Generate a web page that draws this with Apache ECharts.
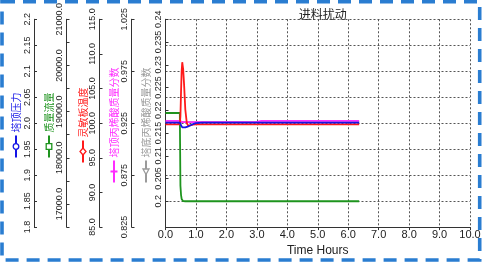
<!DOCTYPE html>
<html><head><meta charset="utf-8">
<script src="https://cdn.jsdelivr.net/npm/echarts@6/dist/echarts.min.js"></script>
<style>html,body{margin:0;padding:0;background:#fff}#c{width:484px;height:262px}</style>
</head><body><div id="c"></div>
<script>
// ---------- data ----------
const chartTitle = '进料扰动';
const xName = 'Time Hours';
const xTickValues = [0,1,2,3,4,5,6,7,8,9,10];

const time       = [0,     0.47,  0.49,  0.51,  0.53,  0.55,  0.58,  0.61,  0.65,  0.70,  0.75,  0.80,  0.90,  1.00,  1.20,  2.00,  3.00,  3.15,  4.00,  5.00,  6.00,  6.36];
const pressure   = [2.001, 2.001, 1.999, 1.996, 1.993, 1.992, 1.9915,1.9915,1.992, 1.993, 1.994, 1.995, 1.998, 2.000, 2.001, 2.001, 2.001, 2.001, 2.001, 2.001, 2.001, 2.001];
const massFlow   = [18970, 18970, 17400, 17200, 17110, 17075, 17062, 17060, 17060, 17060, 17060, 17060, 17060, 17060, 17060, 17060, 17060, 17060, 17060, 17060, 17060, 17060];
const sensTemp   = [99.82, 99.82, 101.0, 104.5, 107.5, 108.8, 107.8, 105.6, 102.0, 100.0, 99.6,  99.65, 99.78, 99.82, 99.82, 99.82, 99.82, 99.82, 99.82, 99.82, 99.82, 99.82];
const topAcid    = [0.9272,0.9272,0.9268,0.9264,0.9262,0.9261,0.9261,0.9261,0.9261,0.9261,0.9261,0.9261,0.9261,0.9261,0.9261,0.9261,0.9262,0.9272,0.9272,0.9272,0.9272,0.9272];
const bottomAcid = [0.2174,0.2174,0.2174,0.2174,0.2174,0.2174,0.2174,0.2174,0.2174,0.2174,0.2174,0.2174,0.2174,0.2174,0.2174,0.2174,0.2174,0.2174,0.2174,0.2174,0.2174,0.2174];

const seriesNames = ['塔顶压力','质量流量','灵敏板温度','塔顶丙烯酸质量分数','塔底丙烯酸质量分数'];

const pressureTickValues = [1.8,1.85,1.9,1.95,2.0,2.05,2.1,2.15,2.2];
const pressureTickLabels = ['1.8','1.85','1.9','1.95','2.0','2.05','2.1','2.15','2.2'];
const flowLabelValues = [17000,18000,19000,20000,21000];
const flowLabelTexts  = ['17000.0','18000.0','19000.0','20000.0','21000.0'];
const flowTickValues  = [16500,17000,17500,18000,18500,19000,19500,20000,20500,21000];
const tempTickValues = [85,90,95,100,105,110,115];
const tempTickLabels = ['85.0','90.0','95.0','100.0','105.0','110.0','115.0'];
const topTickValues = [0.825,0.875,0.925,0.975,1.025];
const topTickLabels = ['0.825','0.875','0.925','0.975','1.025'];
const botTickValues = [0.2,0.205,0.21,0.215,0.22,0.225,0.23,0.235,0.24];
const botTickLabels = ['0.2','0.205','0.21','0.215','0.22','0.225','0.23','0.235','0.24'];

// ---------- chart ----------
const colors = ['#1414e6','#1e941e','#ff1a1a','#ff2cff','#9a9a9a'];
const AX = '#333';
const numFont = '"Liberation Sans", Arial, sans-serif';
const cjkFont = '"Noto Sans CJK SC", sans-serif';

function pick(vals, labs){
  return function(v){
    let bi=0, bd=Infinity;
    vals.forEach((x,i)=>{const d=Math.abs(x-v); if(d<bd){bd=d;bi=i;}});
    return labs[bi];
  };
}
function sideAxis(min,max,offset,labVals,labTexts,tickVals){
  return {
    type:'value', position:'left', offset:offset, min:min, max:max,
    axisLine:{show:true,onZero:false,lineStyle:{color:AX,width:1}},
    axisTick:{show:true,inside:true,length:3,customValues:tickVals,lineStyle:{color:AX}},
    axisLabel:{show:true,rotate:90,margin:2,customValues:labVals,formatter:pick(labVals,labTexts),
      color:'#222',fontSize:9,fontFamily:numFont,hideOverlap:false},
    splitLine:{show:false}
  };
}

const chart = echarts.init(document.getElementById('c'), null, {renderer:'canvas'});

const yAxes = [
  sideAxis(0.19434,0.24,0,botTickValues,botTickLabels,botTickValues),
  sideAxis(1.8,2.2,131.5,pressureTickValues,pressureTickLabels,pressureTickValues),
  sideAxis(16500,21000,99,flowLabelValues,flowLabelTexts,flowTickValues),
  sideAxis(85,115,66,tempTickValues,tempTickLabels,tempTickValues),
  sideAxis(0.825,1.025,34,topTickValues,topTickLabels,topTickValues),
  { type:'value', position:'right', min:0, max:8, interval:1, show:true,
    axisLine:{show:false}, axisTick:{show:false}, axisLabel:{show:false},
    splitLine:{show:true,lineStyle:{type:[2,2],color:'#555',width:1}} }
];

const dataSets = [bottomAcid, massFlow, topAcid, sensTemp, pressure];
const axisIdx  = [0, 2, 4, 3, 1];
const colIdx   = [4, 1, 3, 2, 0];
const series = dataSets.map((arr,k)=>({
  type:'line', name:seriesNames[colIdx[k]], yAxisIndex:axisIdx[k], xAxisIndex:0,
  showSymbol:false, symbol:'none', animation:false,
  lineStyle:{color:colors[colIdx[k]], width:1.8},
  data: time.map((t,i)=>[t, arr[i]])
}));

// rotated name tags (legend-like) for each left axis
const tagX = [16, 49, 83, 114, 146];
const symbols = ['circle','rect','diamond','plus','triangle'];
function tag(i){
  const col = colors[i], name = seriesNames[i];
  const fs = 10, L = 22, g = 3;
  const total = L + g + name.length*fs;
  const bottom = 125 + total/2;
  const ch = [
    {type:'line', shape:{x1:0,y1:0,x2:L,y2:0}, style:{stroke:col,lineWidth:2}}
  ];
  const c = L/2;
  if(symbols[i]==='circle') ch.push({type:'circle',shape:{cx:c,cy:0,r:2.8},style:{fill:'#fff',stroke:col,lineWidth:1.3}});
  if(symbols[i]==='rect') ch.push({type:'rect',shape:{x:c-2.8,y:-2.8,width:5.6,height:5.6},style:{fill:'#fff',stroke:col,lineWidth:1.3}});
  if(symbols[i]==='diamond') ch.push({type:'polygon',shape:{points:[[c-3.5,0],[c,-3],[c+3.5,0],[c,3]]},style:{fill:'#fff',stroke:col,lineWidth:1.3}});
  if(symbols[i]==='plus') ch.push({type:'polyline',shape:{points:[[c,-3.5],[c,3.5]]},style:{stroke:col,lineWidth:2}});
  if(symbols[i]==='triangle') ch.push({type:'polygon',shape:{points:[[c-3,0],[c+2.5,-3],[c+2.5,3]]},style:{fill:'#fff',stroke:col,lineWidth:1.3}});
  ch.push({type:'text', x:L+g, y:0, style:{text:name, fill:col, fontSize:fs, fontFamily:cjkFont,
    align:'left', verticalAlign:'middle', textAlign:'left', textVerticalAlign:'middle'}});
  return {type:'group', x:tagX[i], y:bottom, rotation:Math.PI/2, children:ch};
}

const graphics = [0,1,2,3,4].map(tag);
graphics.push({type:'rect', shape:{x:2,y:1.8,width:477.7,height:258.2}, z:100,
  style:{fill:null, stroke:'#2a7dd1', lineWidth:3.6, lineDash:[13,8]}});

chart.setOption({
  animation:false,
  backgroundColor:'#fff',
  title:{text:chartTitle, left:317.75, top:3, textAlign:'center',
    textStyle:{fontSize:12,fontWeight:'normal',color:'#222',fontFamily:cjkFont}},
  grid:{left:165.5, right:14, top:18, bottom:30, containLabel:false},
  xAxis:{type:'value', min:0, max:10, interval:1, name:xName, nameLocation:'middle', nameGap:11,
    nameTextStyle:{fontSize:12,color:'#222',fontFamily:numFont},
    axisLine:{onZero:false,lineStyle:{color:AX}},
    axisTick:{length:3,lineStyle:{color:AX}},
    axisLabel:{formatter:v=>v.toFixed(1), margin:2, fontSize:11, color:'#222', fontFamily:numFont},
    splitLine:{show:true,lineStyle:{type:[2,2],color:'#555',width:1}}},
  yAxis: yAxes,
  series: series,
  graphic: graphics
});
</script></body></html>
